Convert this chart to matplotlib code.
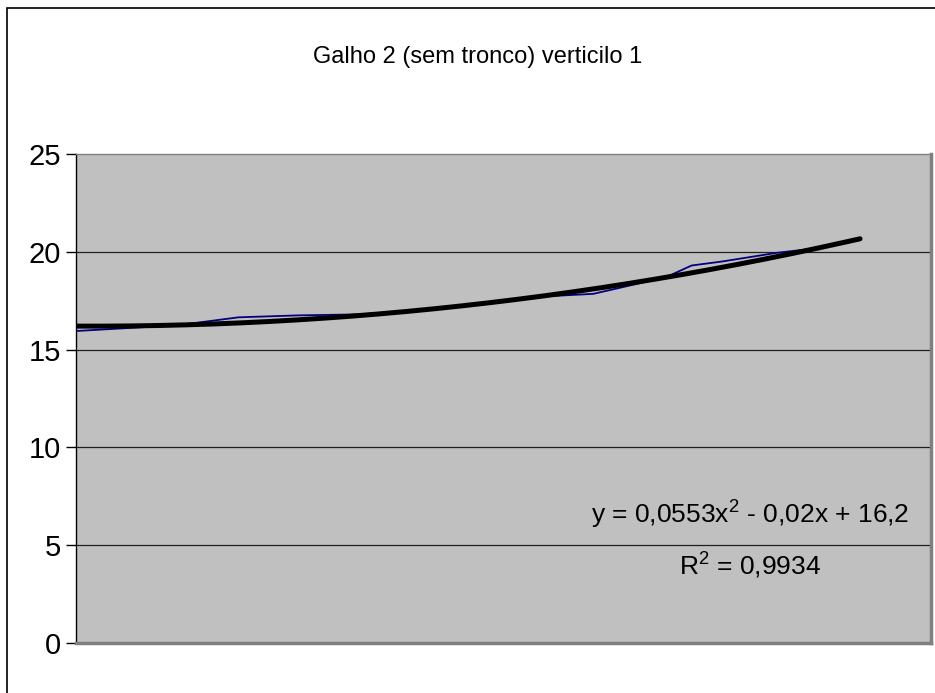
import numpy as np
import matplotlib
matplotlib.use("Agg")
import matplotlib.pyplot as plt
from matplotlib.patches import Rectangle

# data
x_obs = [0.0, 0.6, 1.2, 1.9, 2.6, 3.3, 4.0, 4.7, 5.4, 6.05, 6.9, 7.2, 7.55, 8.2, 8.7, 9.17]
y_obs = [15.95, 16.1, 16.25, 16.65, 16.75, 16.8, 17.0, 17.35, 17.7, 17.85, 18.7, 19.3, 19.5, 19.95, 20.2, 20.6]

# polynomial trendline coefficients shown on the chart
trend_coef = [0.0553, -0.02, 16.2]
y_ticks = [0, 5, 10, 15, 20, 25]

title = "Galho 2 (sem tronco) verticilo 1"
eq_text = "y = 0,0553x$^{2}$ - 0,02x + 16,2"
r2_text = "R$^{2}$ = 0,9934"

plt.rcParams["font.family"] = ["Liberation Sans", "DejaVu Sans"]
plt.rcParams["mathtext.fontset"] = "custom"
plt.rcParams["mathtext.rm"] = "Liberation Sans"
plt.rcParams["mathtext.it"] = "Liberation Sans"

fig = plt.figure(figsize=(9.35, 6.93), dpi=100)
ax = fig.add_axes([76 / 935, 50 / 693, (931 - 76) / 935, (643 - 154) / 693])
ax.set_facecolor("#c0c0c0")

ax.set_xlim(0, 10)
ax.set_ylim(0, 25)
ax.set_yticks(y_ticks)
ax.set_yticklabels([str(t) for t in y_ticks], fontsize=21)
ax.set_xticks([])
ax.tick_params(axis="y", direction="out", length=7, width=1, pad=4, color="black")

for t in y_ticks[1:-1]:
    ax.axhline(t, color="#202020", lw=0.9, zorder=1)

ax.spines["left"].set_color("black")
ax.spines["left"].set_linewidth(1.0)
ax.spines["top"].set_color("#808080")
ax.spines["top"].set_linewidth(1.0)
ax.spines["right"].set_color("#808080")
ax.spines["right"].set_linewidth(2.5)
ax.spines["bottom"].set_color("#808080")
ax.spines["bottom"].set_linewidth(2.5)

ax.plot(x_obs, y_obs, color="#000080", lw=1.3, zorder=3)

xt = np.linspace(0, x_obs[-1], 200)
ax.plot(xt, np.polyval(trend_coef, xt), color="black", lw=3.6,
        solid_capstyle="round", zorder=4)

ax.text(750 / 935, 1 - 515 / 693, eq_text, transform=fig.transFigure,
        ha="center", va="center", fontsize=19)
ax.text(750 / 935, 1 - 566 / 693, r2_text, transform=fig.transFigure,
        ha="center", va="center", fontsize=19)

fig.text(478 / 935, 1 - 57 / 693, title, ha="center", va="center", fontsize=17)

# outer chart border (right and bottom fall outside the image)
fig.patches.append(Rectangle((7 / 935, -0.5), 2, 1.5 - 8 / 693, transform=fig.transFigure,
                             fill=False, edgecolor="black", lw=1.2))

fig.savefig("out.png", dpi=100)
